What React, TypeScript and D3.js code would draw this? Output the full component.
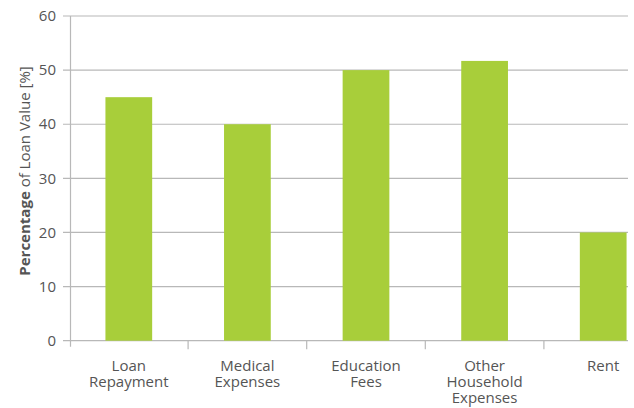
import React from "react";
import * as d3 from "d3";

const categories: string[][] = [
  ["Loan", "Repayment"],
  ["Medical", "Expenses"],
  ["Education", "Fees"],
  ["Other", "Household", "Expenses"],
  ["Rent"],
];
const values: number[] = [45, 40, 50, 51.7, 20];
const yTicks: number[] = [0, 10, 20, 30, 40, 50, 60];

const W = 634;
const H = 408;
const left = 70.5;
const plotRight = 628;
const top = 16;
const bottom = 340.7;
const FONT = "'Open Sans', 'DejaVu Sans', sans-serif";
const TEXT = "#555555";
const GRID = "#b8b8b8";
const BAR = "#a8ce3a";

export default function App() {
  const keys = categories.map((c) => c.join(" "));
  const x = d3.scaleBand<string>().domain(keys).range([69.5, 69.5 + 118.6 * 5]).paddingInner(0.606).paddingOuter(0.303);
  const y = d3.scaleLinear().domain([0, 60]).range([bottom, top]);
  const step = x.step();
  return (
    <svg width={W} height={H} style={{ position: "absolute", left: 0, top: 0, fontFamily: FONT }}>
      <rect width={W} height={H} fill="#fff" />
      {yTicks.map((t) => (
        <g key={t}>
          <line x1={63} x2={plotRight} y1={y(t)} y2={y(t)} stroke={GRID} strokeWidth={1.2} />
          <text x={56} y={y(t)} dy="0.35em" textAnchor="end" fontSize={15} fill={TEXT}>{t}</text>
        </g>
      ))}
      <line x1={left} x2={left} y1={top} y2={bottom + 6} stroke={GRID} strokeWidth={1.2} />
      {keys.map((k, i) => (
        <rect key={k} x={x(k)} y={y(values[i])} width={x.bandwidth()} height={bottom - y(values[i])} fill={BAR} />
      ))}
      {keys.slice(1).map((k) => {
        const tx = (x(k) as number) - (step - x.bandwidth()) / 2;
        return <line key={k} x1={tx} x2={tx} y1={bottom} y2={bottom + 8.5} stroke={GRID} strokeWidth={1.2} />;
      })}
      {categories.map((lines, i) => {
        const cx = (x(keys[i]) as number) + x.bandwidth() / 2;
        return (
          <text key={i} x={cx} textAnchor="middle" fontSize={15} fill={TEXT}>
            {lines.map((l, j) => (
              <tspan key={j} x={cx} y={371 + j * 16.2}>{l}</tspan>
            ))}
          </text>
        );
      })}
      <text transform={`translate(30,${171}) rotate(-90)`} textAnchor="middle" fontSize={15} fill={TEXT}>
        <tspan fontWeight="bold">Percentage</tspan>
        <tspan> of Loan Value [%]</tspan>
      </text>
    </svg>
  );
}
